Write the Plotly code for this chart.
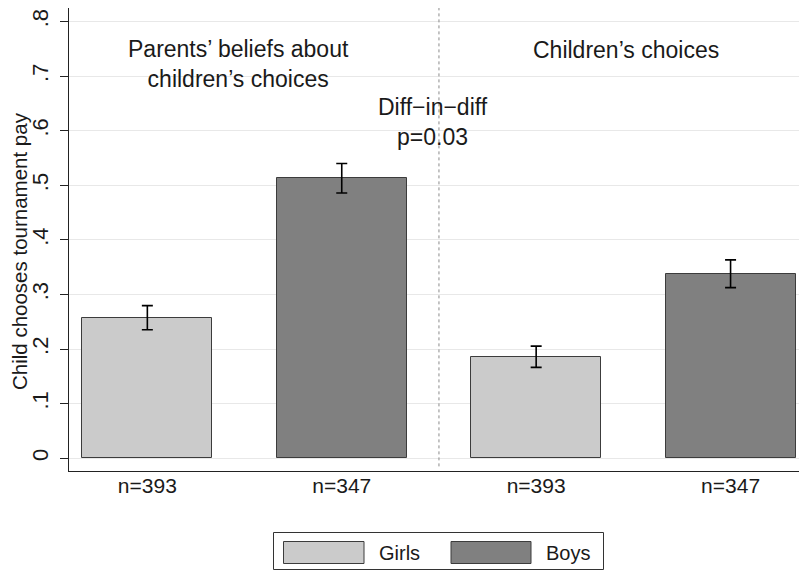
import plotly.graph_objects as go

# Share of children choosing tournament pay, by group and gender
groups = ["Parents' beliefs", "Parents' beliefs", "Children's choices", "Children's choices"]
genders = ["Girls", "Boys", "Girls", "Boys"]
shares = [0.2575, 0.5128, 0.186, 0.338]
std_errors = [0.022, 0.027, 0.0195, 0.0254]
sample_sizes = ["n=393", "n=347", "n=393", "n=347"]
y_ticks = [0, 0.1, 0.2, 0.3, 0.4, 0.5, 0.6, 0.7, 0.8]
y_tick_labels = ["0", ".1", ".2", ".3", ".4", ".5", ".6", ".7", ".8"]

W, H = 799, 572
L, R, T, B = 69, 0, 8, 101
PW, PH = W - L - R, H - T - B
FONT = "Liberation Sans, Arial, Helvetica, sans-serif"
colors = {"Girls": "#cbcbcb", "Boys": "#808080"}
positions = list(range(len(shares)))


def px(x):
    return (x - L) / PW


def py(y):
    return (H - B - y) / PH


fig = go.Figure()
for g in ["Girls", "Boys"]:
    idx = [i for i, s in enumerate(genders) if s == g]
    fig.add_trace(go.Bar(
        x=[positions[i] for i in idx],
        y=[shares[i] for i in idx],
        width=0.669,
        name=g,
        marker=dict(color=colors[g], line=dict(color="#3c3c3c", width=1)),
        error_y=dict(type="data", array=[std_errors[i] for i in idx],
                     color="black", thickness=1.6, width=5.5),
        showlegend=False,
    ))

# Separator between the two panels
fig.add_shape(type="line", xref="x", yref="paper", x0=1.5, x1=1.5, y0=0.01, y1=1,
              line=dict(color="#8a8a8a", width=1, dash="dot"))

# Panel headings and test result
fig.add_annotation(x=0.467, y=0.722, xref="x", yref="y", showarrow=False,
                   text="Parents’ beliefs about<br>children’s choices",
                   font=dict(size=23, color="#1a1a1a", family=FONT))
fig.add_annotation(x=2.462, y=0.748, xref="x", yref="y", showarrow=False,
                   text="Children’s choices",
                   font=dict(size=23, color="#1a1a1a", family=FONT))
fig.add_annotation(x=1.47, y=0.616, xref="x", yref="y", showarrow=False,
                   text="Diff−in−diff<br>p=0.03",
                   font=dict(size=23, color="#1a1a1a", family=FONT))

# Vertical axis title
fig.add_annotation(x=px(19), y=py(251), xref="paper", yref="paper", showarrow=False,
                   textangle=-90, xanchor="center", yanchor="middle",
                   text="Child chooses tournament pay",
                   font=dict(size=20.5, color="#1a1a1a", family=FONT))

# Legend drawn as a boxed key below the plot
fig.add_shape(type="rect", xref="paper", yref="paper",
              x0=px(273.5), x1=px(603.5), y0=py(532.5), y1=py(569.5),
              line=dict(color="#333333", width=1), fillcolor="white")
for g, x0, x1, tx in [("Girls", 283.5, 364, 377), ("Boys", 451, 531, 544)]:
    fig.add_shape(type="rect", xref="paper", yref="paper",
                  x0=px(x0), x1=px(x1), y0=py(541.5), y1=py(563.5),
                  line=dict(color="#3c3c3c", width=1), fillcolor=colors[g])
    fig.add_annotation(x=px(tx), y=py(552.5), xref="paper", yref="paper",
                       xanchor="left", yanchor="middle", showarrow=False,
                       text=g, font=dict(size=20, color="#1a1a1a", family=FONT))

fig.update_layout(
    width=W, height=H,
    margin=dict(l=L, r=R, t=T, b=B, pad=0),
    paper_bgcolor="white", plot_bgcolor="white",
    font=dict(family=FONT, color="#1a1a1a"),
    bargap=0,
)
fig.update_xaxes(
    range=[-0.403, 3.352], tickmode="array", tickvals=positions, ticktext=sample_sizes,
    ticks="", showgrid=False, zeroline=False, showline=True, linecolor="#222222",
    linewidth=1, tickfont=dict(size=21, color="#1a1a1a"), fixedrange=True,
    ticklabelstandoff=-4,
)
fig.update_yaxes(
    range=[-0.0233, 0.8247], tickmode="array", tickvals=y_ticks, ticktext=y_tick_labels,
    tickangle=-90, ticks="outside", ticklen=8, tickcolor="#222222", tickwidth=1,
    showgrid=True, gridcolor="#e8e8e8", gridwidth=1, zeroline=False,
    showline=True, linecolor="#222222", linewidth=1,
    tickfont=dict(size=22, color="#1a1a1a"), ticklabelstandoff=3,
)

fig.write_html("out.html")
